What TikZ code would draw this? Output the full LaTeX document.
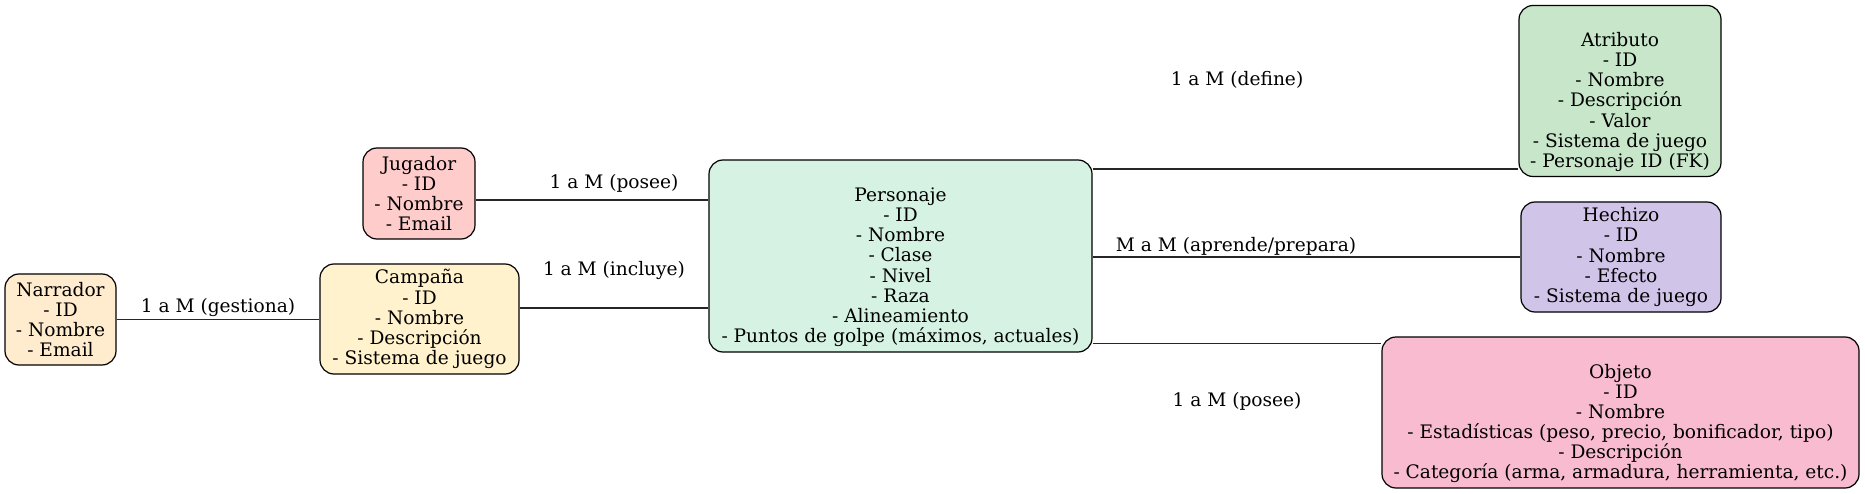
\documentclass[tikz,border=0pt]{standalone}
\usepackage{fontspec}
\setmainfont{DejaVu Serif}
\definecolor{cNar}{HTML}{FFEBCD}
\definecolor{cCam}{HTML}{FFF2CC}
\definecolor{cJug}{HTML}{FFCCCC}
\definecolor{cPer}{HTML}{D5F2E3}
\definecolor{cAtr}{HTML}{C8E6C9}
\definecolor{cHec}{HTML}{D1C4E9}
\definecolor{cObj}{HTML}{F8BBD0}
\newcommand{\blankline}{\rule{0pt}{16pt}\\}
\tikzset{
  ent/.style={draw=black, line width=1.2pt, rounded corners=14pt, align=center, inner sep=2pt,
    font=\fontsize{18.6}{20.1}\selectfont},
  rel/.style={font=\fontsize{18.6}{20}\selectfont, inner sep=0pt},
  conn/.style={draw=black!85, line width=1.2pt}
}
\begin{document}
\begin{tikzpicture}[x=1pt,y=-1pt]
\useasboundingbox (0,0) rectangle (1865,494);
\node[ent, fill=cNar, minimum width=111pt, minimum height=91pt] (nar) at (60.5,319.5)
  {Narrador\\- ID\\- Nombre\\- Email};
\node[ent, fill=cCam, minimum width=199pt, minimum height=110pt] (cam) at (419.5,319)
  {Campaña\\- ID\\- Nombre\\- Descripción\\- Sistema de juego};
\node[ent, fill=cJug, minimum width=112pt, minimum height=91pt] (jug) at (419,193.5)
  {Jugador\\- ID\\- Nombre\\- Email};
\node[ent, fill=cPer, minimum width=383pt, minimum height=192pt] (per) at (900.5,256)
  {\blankline Personaje\\- ID\\- Nombre\\- Clase\\- Nivel\\- Raza\\- Alineamiento\\- Puntos de golpe (máximos, actuales)};
\node[ent, fill=cAtr, minimum width=202pt, minimum height=171pt] (atr) at (1620,91)
  {\blankline Atributo\\- ID\\- Nombre\\- Descripción\\- Valor\\- Sistema de juego\\- Personaje ID (FK)};
\node[ent, fill=cHec, minimum width=200pt, minimum height=110pt] (hec) at (1621,257)
  {Hechizo\\- ID\\- Nombre\\- Efecto\\- Sistema de juego};
\node[ent, fill=cObj, minimum width=477pt, minimum height=151pt] (obj) at (1620.5,412.5)
  {\blankline Objeto\\- ID\\- Nombre\\- Estadísticas (peso, precio, bonificador, tipo)\\- Descripción\\- Categoría (arma, armadura, herramienta, etc.)};
% connectors
\draw[conn] (nar.east) -- (nar.east -| cam.west);
\coordinate (js) at ([yshift=-6.5pt]jug.east);
\draw[conn] (js) -- (js -| per.west);
\coordinate (cs) at ([yshift=11pt]cam.east);
\draw[conn] (cs) -- (cs -| per.west);
\coordinate (ae) at ([yshift=8pt]atr.south west);
\draw[conn] (per.east |- ae) -- (ae);
\draw[conn] (per.east |- hec.west) -- (hec.west);
\coordinate (oe) at ([yshift=-7pt]obj.north west);
\draw[conn] (per.east |- oe) -- (oe);
% labels
\node[rel] (l1) at (218,308) {1 a M (gestiona)};
\node[rel] (l2) at (614,183) {1 a M (posee)};
\node[rel] (l3) at (614,271) {1 a M (incluye)};
\node[rel] (l4) at (1237,80) {1 a M (define)};
\node[rel] (l5) at (1236,246) {M a M (aprende/prepara)};
\node[rel] (l6) at (1237,401) {1 a M (posee)};
\end{tikzpicture}
\end{document}
